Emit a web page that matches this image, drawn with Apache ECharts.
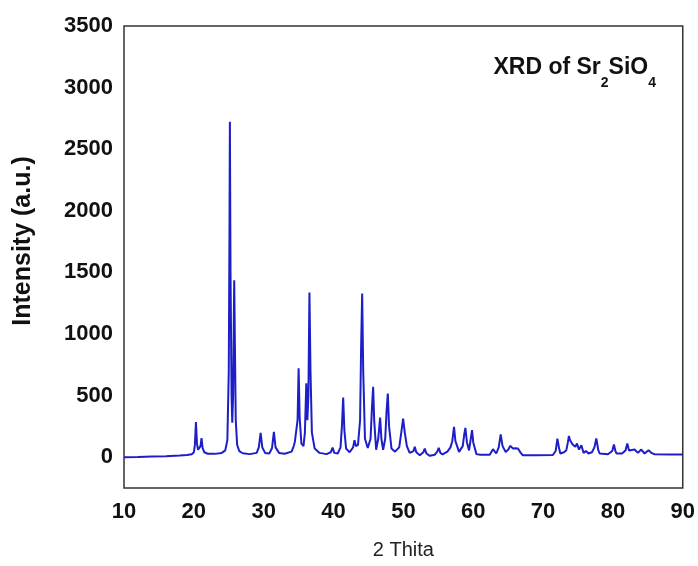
<!DOCTYPE html>
<html>
<head>
<meta charset="utf-8">
<script src="https://cdn.jsdelivr.net/npm/echarts@6/dist/echarts.min.js"></script>
<style>
html,body{margin:0;padding:0;background:#fff;}
#chart{width:698px;height:566px;}
</style>
</head>
<body>
<div id="chart"></div>
<script>
const xTicks = [10, 20, 30, 40, 50, 60, 70, 80, 90];
const yTicks = [0, 500, 1000, 1500, 2000, 2500, 3000, 3500];

const twoTheta = [
  10, 12, 14, 16, 18, 19, 19.7, 20.0, 20.15, 20.3, 20.45, 20.6, 20.8, 20.95, 21.1, 21.25, 21.5, 22, 23, 24,
  24.5, 24.8, 25.0, 25.1, 25.16, 25.25, 25.4, 25.5, 25.62, 25.72, 25.78, 25.88, 26.0, 26.2, 26.5, 27, 28,
  29, 29.3, 29.56, 29.8, 30.2, 30.8, 31.2, 31.46, 31.7, 32.2, 33, 34, 34.3, 34.46, 34.65, 34.85, 35.0, 35.15,
  35.4, 35.7, 35.9, 36.1, 36.25, 36.4, 36.55, 36.7, 36.9, 37.3, 38, 39.0, 39.6, 39.86, 40.1, 40.6,
  41.0, 41.2, 41.38, 41.55, 41.8, 42.3, 42.8, 43.0, 43.2, 43.5, 43.8, 43.95, 44.1, 44.25, 44.5, 44.9,
  45.3, 45.5, 45.67, 45.82, 46.1, 46.4, 46.67, 46.85, 47.1, 47.4, 47.6, 47.77, 47.95, 48.3, 48.8,
  49.4, 49.7, 49.96, 50.2, 50.5, 50.9, 51.16, 51.45, 51.63, 51.85, 52.35, 52.85, 53.06, 53.3, 53.78,
  54.5, 54.85, 55.06, 55.3, 55.6, 56.3, 56.74, 57.0, 57.25, 57.45, 57.97, 58.5, 58.7, 58.88, 59.1, 59.4,
  59.65, 59.83, 60.0, 60.46, 61, 62.36, 62.83, 63.3, 63.65, 63.93, 64.2, 64.65, 65.0, 65.32, 65.7, 66.0,
  66.4, 66.8, 67.1, 69, 71.4, 71.8, 72.05, 72.3, 72.47, 73.0, 73.33, 73.55, 73.7, 73.85, 74.05, 74.2,
  74.38, 74.62, 74.85, 75.14, 75.48, 75.8, 76.14, 76.5, 77.0, 77.35, 77.62, 77.9, 78.1, 79.29, 79.9,
  80.15, 80.35, 80.53, 81.3, 81.8, 82.06, 82.3, 82.53, 83.1, 83.58, 84.06, 84.53, 85.1, 85.5, 85.96, 88, 90
];
const intensity = [
  0, 2, 5, 8, 14, 18, 24, 40, 100, 285, 110, 60, 60, 90, 155, 75, 40, 28, 27, 35,
  55, 140, 700, 1800, 2722, 1500, 500, 280, 500, 1100, 1437, 900, 300, 100, 50, 32, 25,
  35, 80, 197, 80, 35, 30, 75, 205, 80, 35, 28, 45, 90, 124, 130, 300, 722, 320,
  110, 90, 200, 600, 300, 500, 1336, 700, 200, 70, 35, 25, 40, 78, 35, 30,
  80, 250, 484, 220, 70, 40, 80, 138, 90, 100, 300, 900, 1329, 700, 150, 75,
  150, 400, 571, 300, 60, 150, 322, 150, 60, 150, 380, 517, 250, 70, 45,
  80, 200, 314, 200, 90, 35, 22, 50, 84, 40, 16, 40, 70, 30, 11,
  20, 45, 76, 35, 22, 45, 80, 130, 246, 130, 43, 90, 180, 238, 120, 55,
  150, 219, 120, 25, 20, 20, 65, 30, 80, 185, 90, 43, 60, 92, 70, 72,
  70, 35, 16, 16, 18, 50, 150, 70, 30, 40, 57, 120, 173, 140, 132, 105,
  116, 84, 111, 62, 97, 35, 51, 30, 40, 80, 152, 60, 30, 24, 50,
  103, 50, 30, 30, 55, 111, 55, 43, 62, 35, 62, 30, 57, 35, 24, 22, 22
];

const seriesData = twoTheta.map((x, i) => [x, intensity[i]]);

const chart = echarts.init(document.getElementById('chart'), null, {renderer: 'canvas'});
const labelFont = {fontFamily: 'Liberation Sans, Arial, sans-serif', fontWeight: 'bold', fontSize: 22, color: '#111'};

chart.setOption({
  animation: false,
  backgroundColor: '#fff',
  title: {
    text: '{m|XRD of Sr}{s|2}{m|SiO}{s|4}',
    right: 37,
    top: 51,
    textStyle: {
      rich: {
        m: {fontFamily: 'Liberation Sans, Arial, sans-serif', fontWeight: 'bold', fontSize: 23, color: '#111', lineHeight: 24, verticalAlign: 'top'},
        s: {fontFamily: 'Liberation Sans, Arial, sans-serif', fontWeight: 'bold', fontSize: 14, color: '#111', lineHeight: 14, verticalAlign: 'top', padding: [20, 0, 0, 0]}
      }
    }
  },
  grid: {
    left: 124, right: 15, top: 26, bottom: 78,
    show: true, borderColor: '#333', borderWidth: 1.5, backgroundColor: 'transparent'
  },
  xAxis: {
    type: 'value',
    min: 10, max: 90, interval: 10,
    name: '2 Thita',
    nameLocation: 'middle',
    nameGap: 52,
    nameTextStyle: {fontFamily: 'Liberation Sans, Arial, sans-serif', fontSize: 20, color: '#222'},
    axisLine: {show: false},
    axisTick: {show: false},
    splitLine: {show: false},
    axisLabel: Object.assign({margin: 13, formatter: v => xTicks.includes(v) ? String(v) : ''}, labelFont)
  },
  yAxis: {
    type: 'value',
    min: -250, max: 3500, interval: 250,
    name: 'Intensity (a.u.)',
    nameLocation: 'middle',
    nameGap: 88,
    nameTextStyle: {fontFamily: 'Liberation Sans, Arial, sans-serif', fontWeight: 'bold', fontSize: 25, color: '#111', padding: [0, 0, 0, 32]},
    axisLine: {show: false},
    axisTick: {show: false},
    splitLine: {show: false},
    axisLabel: Object.assign({margin: 11, formatter: v => yTicks.includes(v) ? String(v) : ''}, labelFont)
  },
  series: [{
    type: 'line',
    data: seriesData,
    showSymbol: false,
    symbol: 'none',
    smooth: false,
    lineStyle: {color: '#1e1ec8', width: 2},
    z: 3
  }]
});
</script>
</body>
</html>
